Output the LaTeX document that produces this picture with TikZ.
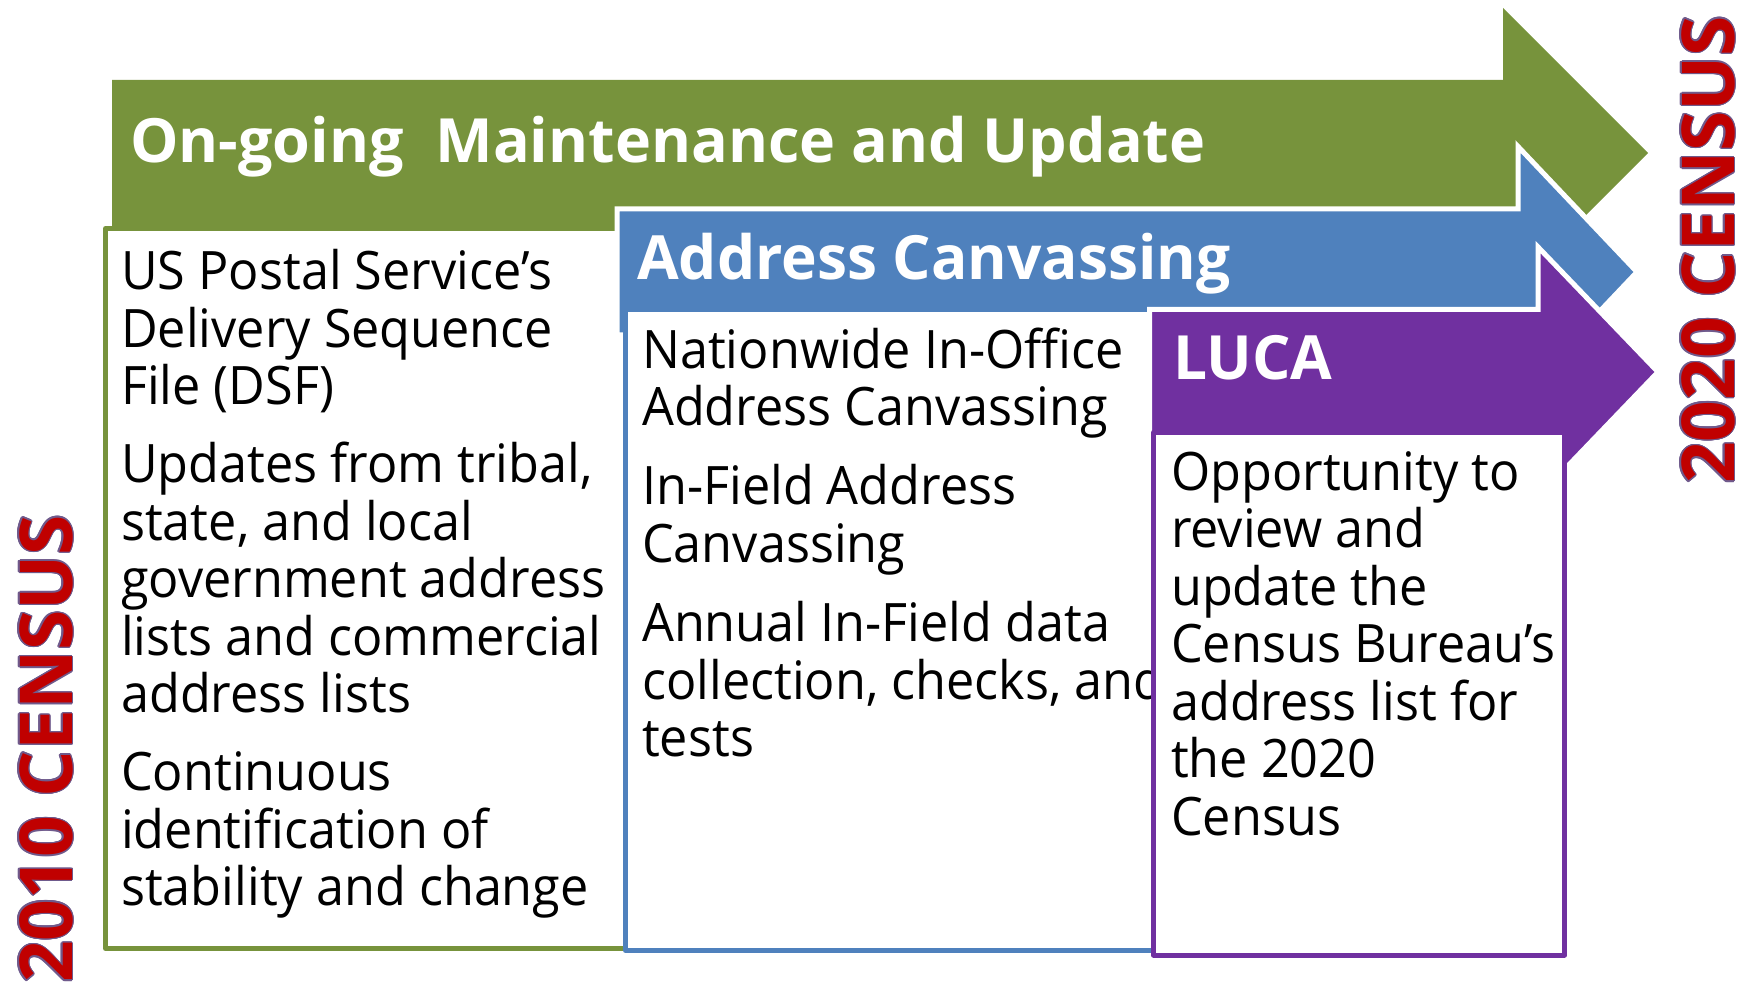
\documentclass[tikz,border=0pt]{standalone}
\usepackage{fontspec}
\setmainfont{Open Sans}
\newfontfamily\bodyfam{Open Sans}[FakeStretch=0.95]
\newfontfamily\headfam{Open Sans}[FakeStretch=0.99]
\usepackage{contour}
\contourlength{1.3pt}
\definecolor{cgreen}{HTML}{77933C}
\definecolor{cblue}{HTML}{4F81BD}
\definecolor{cpurple}{HTML}{7030A0}
\definecolor{cred}{HTML}{C00000}
\definecolor{coutline}{HTML}{6F5A8C}
\newcommand{\bodytext}{\bodyfam\fontsize{53}{57.5}\selectfont}
\newcommand{\headtext}{\headfam\fontsize{61}{70}\selectfont\bfseries}
\newcommand{\wideheadtext}{\fontsize{61}{70}\selectfont\bfseries}
\newcommand{\censustext}{\fontsize{73}{80}\selectfont\bfseries}
\newcommand{\pgap}{\par\vskip 20.5pt}
\tikzset{
  arrowshape/.style={line width=5pt, draw=white, line join=miter},
  contentbox/.style={line width=5pt, fill=white, line join=round},
  bodynode/.style={anchor=base west, inner sep=0pt, font=\bodytext, text=black},
  headnode/.style={anchor=base west, inner sep=0pt, font=\headtext, text=white},
  censusnode/.style={anchor=base west, inner sep=0pt, rotate=90, font=\censustext, text=cred}
}
\begin{document}
\begin{tikzpicture}[x=1pt,y=-1pt]
\useasboundingbox (0,0) rectangle (1738,984);
% green band
\fill[cgreen] (112,80) -- (1503,80) -- (1503,8) -- (1648,153) -- (1503,298) -- (1503,226) -- (112,226) -- cycle;
\draw[contentbox, draw=cgreen] (105.5,228.5) rectangle (626,948.5);
\node[headnode, font=\wideheadtext] (ghead) at (130,163) {On-going\ \ Maintenance and Update};
\node[bodynode] (gtext) at (121,290) {\parbox[t]{800pt}{\raggedright
US Postal Service’s\\Delivery Sequence\\File (DSF)\pgap
Updates from tribal,\\state, and local\\government address\\lists and commercial\\address lists\pgap
Continuous\\identification of\\stability and change}};
% blue band
\filldraw[arrowshape, fill=cblue] (617,209) -- (1518,209) -- (1518,146.5) -- (1637,272) -- (1518,397.5) -- (1518,335) -- (617,335) -- cycle;
\draw[contentbox, draw=cblue] (625.5,310) rectangle (1154,950.5);
\node[headnode] (bhead) at (637,280) {Address Canvassing};
\node[bodynode] (btext) at (642,368) {\parbox[t]{800pt}{\raggedright
Nationwide In-Office\\Address Canvassing\par\vskip 22pt
In-Field Address\\Canvassing\par\vskip 22pt
Annual In-Field data\\collection, checks, and\\tests}};
% purple band
\filldraw[arrowshape, fill=cpurple] (1149.5,309.5) -- (1538,309.5) -- (1538,247) -- (1658,372) -- (1538,497) -- (1538,434.5) -- (1149.5,434.5) -- cycle;
\draw[contentbox, draw=cpurple] (1153.5,432.5) rectangle (1564.5,955);
\node[headnode] (phead) at (1173,380) {LUCA};
\node[bodynode] (ptext) at (1171,490) {\parbox[t]{800pt}{\raggedright
Opportunity to\\review and\\update the\\Census Bureau’s\\address list for\\the 2020\\Census}};
% census labels
\node[censusnode] (c2010) at (72,983) {\contour{coutline}{2010 CENSUS}};
\node[censusnode] (c2020) at (1734,484) {\contour{coutline}{2020 CENSUS}};
\end{tikzpicture}
\end{document}
